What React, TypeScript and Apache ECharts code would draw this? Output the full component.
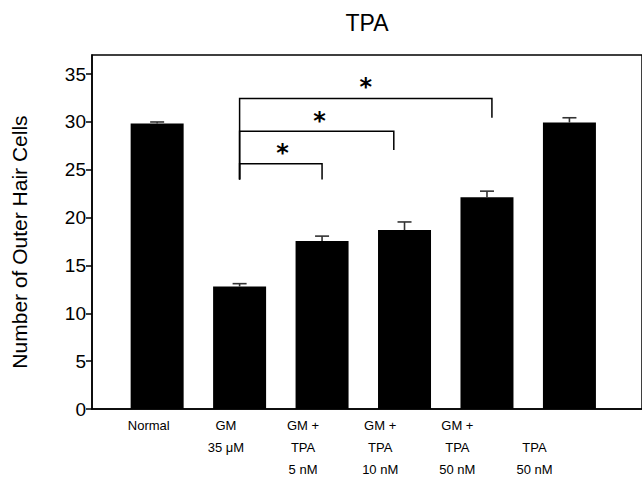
import React, { useEffect, useRef } from "react";
import * as echarts from "echarts";

const xLabels = ["Normal", "GM\n35 μM", "GM +\nTPA\n5 nM", "GM +\nTPA\n10 nM", "GM +\nTPA\n50 nM", "\nTPA\n50 nM"];
const barValues = [29.85, 12.8, 17.57, 18.7, 22.12, 29.94];
const errValues = [0.15, 0.3, 0.5, 0.85, 0.65, 0.5];
const yTickValues = [0, 5, 10, 15, 20, 25, 30, 35];
const yMax = 37;
// significance brackets: [leftX, rightX, topY, leftBottomY, rightBottomY]
const brackets = [
  [1.0, 2.0, 25.64, 24.0, 24.0],
  [1.0, 2.87, 29.03, 24.0, 27.07],
  [1.0, 4.06, 32.45, 24.0, 30.43],
];
// asterisk marks: [x, y]
const stars = [
  [1.52, 27.32],
  [1.97, 30.63],
  [2.53, 34.13],
];
const titleText = "TPA";
const yName = "Number of Outer Hair Cells";

const FONT = '"Liberation Sans", Arial, sans-serif';

export default function App() {
  const ref = useRef<HTMLDivElement>(null);
  useEffect(() => {
    if (!ref.current) return;
    const chart = echarts.init(ref.current, undefined, { renderer: "svg" });
    const option: any = {
      animation: false,
      backgroundColor: "#fff",
      textStyle: { fontFamily: FONT },
      graphic: [
        {
          type: "text",
          x: 367,
          y: 11,
          style: { text: titleText, font: `23px ${FONT}`, fill: "#000", align: "center", verticalAlign: "top" },
        },
      ],
      grid: [
        { left: 92, right: -5, top: 55, bottom: 72, show: true, borderColor: "#000", borderWidth: 1.5, backgroundColor: "transparent" },
        { left: 92, right: -5, top: 55, bottom: 72, show: false },
      ],
      xAxis: [
        {
          type: "value",
          gridIndex: 0,
          min: -0.79,
          max: 5.88,
          axisLine: { show: true, onZero: false, lineStyle: { color: "#000", width: 1.5 } },
          axisTick: { show: false },
          axisLabel: { show: false },
          splitLine: { show: false },
        },
        {
          type: "value",
          gridIndex: 1,
          min: -0.735,
          max: 6.393,
          axisLine: { show: false, onZero: false },
          axisTick: { show: false },
          splitLine: { show: false },
          axisLabel: {
            show: true,
            customValues: xLabels.map((_, i) => i),
            formatter: (v: number) => xLabels[Math.round(v)] ?? "",
            fontSize: 13,
            lineHeight: 22,
            margin: 5,
            color: "#000",
            align: "center",
          },
        },
      ],
      yAxis: [
        {
          type: "value",
          gridIndex: 0,
          min: 0,
          max: yMax,
          name: yName,
          nameLocation: "middle",
          nameGap: 62,
          nameTextStyle: { fontSize: 21, color: "#000", padding: [0, 20, 0, 0] },
          axisLine: { show: true, onZero: false, lineStyle: { color: "#000", width: 1.5 } },
          axisTick: { show: true, length: 6, customValues: yTickValues, lineStyle: { color: "#000", width: 1.5 } },
          axisLabel: { fontSize: 19, color: "#000", margin: 6, customValues: yTickValues },
          splitLine: { show: false },
        },
        { type: "value", gridIndex: 1, min: 0, max: 1, show: false, axisLine: { onZero: false } },
      ],
      series: [
        {
          type: "bar",
          xAxisIndex: 0,
          yAxisIndex: 0,
          barWidth: 53,
          data: barValues.map((v, i) => [i, v]),
          itemStyle: { color: "#000" },
          z: 2,
        },
        {
          type: "custom",
          xAxisIndex: 0,
          yAxisIndex: 0,
          data: barValues.map((v, i) => [i, v, v + errValues[i]]),
          encode: { x: 0, y: [1, 2] },
          z: 3,
          renderItem: (_p: any, api: any) => {
            const x = api.value(0);
            const base = api.coord([x, api.value(1)]);
            const top = api.coord([x, api.value(2)]);
            const style = { stroke: "#333", lineWidth: 1.6 };
            return {
              type: "group",
              children: [
                { type: "line", shape: { x1: base[0], y1: base[1], x2: top[0], y2: top[1] }, style },
                { type: "line", shape: { x1: top[0] - 7, y1: top[1], x2: top[0] + 7, y2: top[1] }, style },
              ],
            };
          },
        },
        {
          type: "custom",
          xAxisIndex: 0,
          yAxisIndex: 0,
          data: brackets,
          encode: { x: [0, 1], y: [2, 3, 4] },
          z: 3,
          renderItem: (_p: any, api: any) => {
            const x1 = api.value(0);
            const x2 = api.value(1);
            const y = api.value(2);
            const yl = api.value(3);
            const yr = api.value(4);
            return {
              type: "polyline",
              shape: { points: [api.coord([x1, yl]), api.coord([x1, y]), api.coord([x2, y]), api.coord([x2, yr])] },
              style: { stroke: "#000", lineWidth: 1.5, fill: null },
            };
          },
        },
        {
          type: "custom",
          xAxisIndex: 0,
          yAxisIndex: 0,
          data: stars,
          encode: { x: 0, y: 1 },
          z: 3,
          renderItem: (_p: any, api: any) => {
            const pt = api.coord([api.value(0), api.value(1)]);
            return {
              type: "text",
              x: pt[0],
              y: pt[1] + 5,
              style: { text: "*", font: `bold 24px "DejaVu Sans"`, fill: "#000", align: "center", verticalAlign: "middle" },
            };
          },
        },
      ],
    };
    chart.setOption(option);
    return () => chart.dispose();
  }, []);
  return <div ref={ref} style={{ position: "fixed", left: 0, top: 0, width: 642, height: 481 }} />;
}
